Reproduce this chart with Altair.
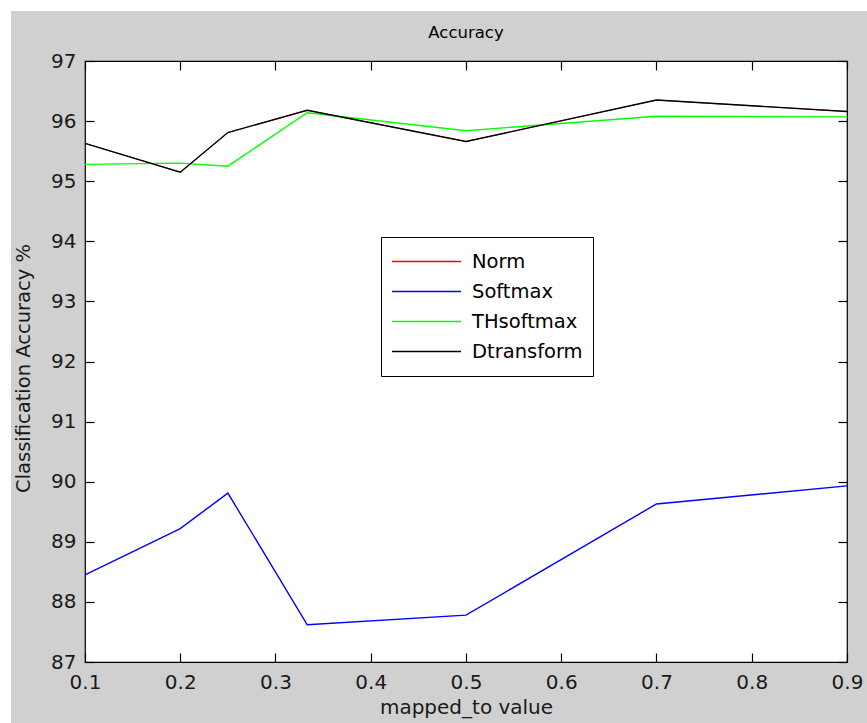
import altair as alt
import pandas as pd

# ---- data ----
x_vals = [0.1, 0.2, 0.25, 1 / 3, 0.5, 0.7, 0.9]
norm = [95.63, 95.15, 95.81, 96.18, 95.66, 96.35, 96.16]
softmax = [88.45, 89.22, 89.81, 87.62, 87.78, 89.63, 89.93]
thsoftmax = [95.28, 95.30, 95.25, 96.14, 95.84, 96.08, 96.07]
dtransform = [95.63, 95.15, 95.81, 96.18, 95.66, 96.35, 96.16]

series_names = ["Norm", "Softmax", "THsoftmax", "Dtransform"]
series_colors = ["#ff0000", "#0000ff", "#00ff00", "#000000"]
x_ticks = [0.1, 0.2, 0.3, 0.4, 0.5, 0.6, 0.7, 0.8, 0.9]
y_ticks = [87, 88, 89, 90, 91, 92, 93, 94, 95, 96, 97]
title_text = "Accuracy"

rows = []
for name, vals in zip(series_names, [norm, softmax, thsoftmax, dtransform]):
    for i, (xv, v) in enumerate(zip(x_vals, vals)):
        rows.append({"x": xv, "value": v, "series": name, "idx": i})
df = pd.DataFrame(rows)

W, H = 762, 601
PAD_L, PAD_T, PAD_R, PAD_B = 85, 61, 20, 61
FONT = "DejaVu Sans"

xscale = alt.Scale(domain=[0.1, 0.9], nice=False, zero=False)
yscale = alt.Scale(domain=[87, 97], nice=False, zero=False)

legend = alt.Legend(
    title=None,
    orient="none",
    legendX=381 - PAD_L,
    legendY=237 - PAD_T,
    symbolType="stroke",
    symbolSize=69 * 69,
    symbolStrokeWidth=1.4,
    clipHeight=29,
    rowPadding=1,
    padding=10,
    labelOffset=10,
    labelFont=FONT,
    labelFontSize=19.5,
    labelColor="#000000",
    strokeColor="#000000",
    fillColor="#ffffff",
    cornerRadius=0,
)
color = alt.Color(
    "series:N",
    scale=alt.Scale(domain=series_names, range=series_colors),
    legend=legend,
)

# Norm is drawn first (underneath), thin so it stays hidden under Dtransform
norm_layer = alt.Chart(df[df["series"] == "Norm"]).mark_line(strokeWidth=0.8).encode(
    x=alt.X("x:Q", scale=xscale, axis=None),
    y=alt.Y("value:Q", scale=yscale, axis=None),
    color=color,
    order=alt.Order("idx:Q"),
)

lines = alt.Chart(df[df["series"] != "Norm"]).mark_line(strokeWidth=1.4).encode(
    x=alt.X(
        "x:Q",
        scale=xscale,
        axis=alt.Axis(
            orient="bottom",
            values=x_ticks,
            format=".1f",
            offset=-9,
            tickSize=9,
            domain=False,
            labelFlush=False,
            labelPadding=10,
            title="mapped_to value",
            titleFontSize=20,
            titlePadding=5,
        ),
    ),
    y=alt.Y(
        "value:Q",
        scale=yscale,
        axis=alt.Axis(
            orient="left",
            values=y_ticks,
            format="d",
            offset=-9,
            tickSize=9,
            domain=False,
            labelFlush=False,
            labelPadding=9,
            title="Classification Accuracy %",
            titleFontSize=19.5,
            titlePadding=17,
            titleY=307,
        ),
    ),
    color=color,
    order=alt.Order("idx:Q"),
)

mirror = alt.Chart(df).mark_line(opacity=0).encode(
    x=alt.X(
        "x:Q",
        scale=xscale,
        axis=alt.Axis(
            orient="top", values=x_ticks, labels=False, title=None,
            offset=-9, tickSize=9, domain=False,
        ),
    ),
    y=alt.Y(
        "value:Q",
        scale=yscale,
        axis=alt.Axis(
            orient="right", values=y_ticks, labels=False, title=None,
            offset=-9, tickSize=9, domain=False,
        ),
    ),
    detail="series:N",
)

one_row = pd.DataFrame({"label": [title_text]})
top_strip = alt.Chart(one_row).mark_rect(color="#ffffff").encode(
    x=alt.value(-PAD_L), x2=alt.value(W + PAD_R),
    y=alt.value(-PAD_T), y2=alt.value(-PAD_T + 11),
)
left_strip = alt.Chart(one_row).mark_rect(color="#ffffff").encode(
    x=alt.value(-PAD_L), x2=alt.value(-PAD_L + 11),
    y=alt.value(-PAD_T), y2=alt.value(H + PAD_B),
)
title_mark = alt.Chart(one_row).mark_text(
    font=FONT, fontSize=16.5, color="#000000", align="center", baseline="alphabetic",
).encode(
    text="label:N",
    x=alt.value(W / 2),
    y=alt.value(38 - PAD_T),
)

chart = (
    alt.layer(top_strip, left_strip, title_mark, norm_layer, lines, mirror)
    .resolve_axis(x="independent", y="independent")
    .properties(
        width=W,
        height=H,
        background="#d0d0d0",
        padding={"left": PAD_L, "top": PAD_T, "right": PAD_R, "bottom": PAD_B},
        autosize=alt.AutoSizeParams(type="none"),
    )
    .configure_view(fill="#ffffff", stroke="#000000", strokeWidth=1.2)
    .configure_axis(
        grid=False,
        labelFont=FONT,
        labelFontSize=20,
        labelColor="#1a1a1a",
        titleFont=FONT,
        titleFontWeight="normal",
        titleColor="#1a1a1a",
        tickColor="#000000",
        tickWidth=1.2,
    )
)

chart.save("out.html", embed_options={"renderer": "svg", "actions": False})
